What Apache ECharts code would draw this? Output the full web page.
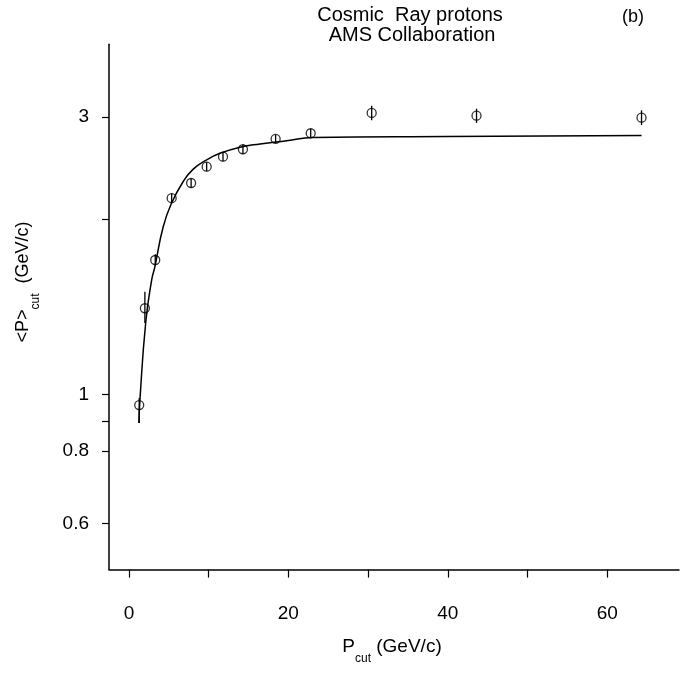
<!DOCTYPE html>
<html>
<head>
<meta charset="utf-8">
<script src="https://cdn.jsdelivr.net/npm/echarts@6/dist/echarts.min.js"></script>
<style>
html,body{margin:0;padding:0;background:#fff;}
#chart{width:683px;height:676px;}
</style>
</head>
<body>
<div id="chart"></div>
<script>
// Measured points: P_cut (GeV/c) and <P>_cut (GeV/c)
const pcut   = [1.29, 2.0, 3.3, 5.36, 7.8, 9.75, 11.8, 14.3, 18.4, 22.8, 30.45, 43.6, 64.3];
const meanP  = [0.959, 1.407, 1.703, 2.175, 2.310, 2.464, 2.564, 2.640, 2.750, 2.813, 3.048, 3.016, 2.992];
const errLow = [0.893, 1.327, 1.665, 2.135, 2.268, 2.420, 2.518, 2.594, 2.705, 2.765, 2.960, 2.930, 2.905];
const errHigh= [0.986, 1.502, 1.742, 2.215, 2.352, 2.508, 2.610, 2.688, 2.795, 2.862, 3.135, 3.100, 3.080];

// Fitted curve
const fitX = [1.25, 1.38, 2.10, 2.85, 3.26, 4.30, 5.36, 6.81, 8.07, 9.75, 11.42, 13.93, 16.44, 19.79, 23.1, 39.9, 64.3];
const fitY = [0.893, 0.978, 1.327, 1.573, 1.659, 1.943, 2.134, 2.324, 2.440, 2.531, 2.598, 2.661, 2.696, 2.731, 2.766, 2.777, 2.788];

// Axis ticks and labels
const xTicks  = [0, 10, 20, 30, 40, 50, 60];
const xLabels = [0, 20, 40, 60];
const yTicks  = [0.6, 0.8, 0.9, 1, 2, 3];
const yLabels = [0.6, 0.8, 1, 3];

const FONT = '"Liberation Sans", Arial, Helvetica, sans-serif';

const chart = echarts.init(document.getElementById('chart'), null, {renderer: 'canvas'});

const pts = pcut.map((x, i) => [x, meanP[i]]);
const errs = pcut.map((x, i) => [x, errLow[i], errHigh[i]]);
const fit = fitX.map((x, i) => [x, fitY[i]]);

const option = {
  backgroundColor: '#fff',
  animation: false,
  grid: {left: 109, right: 4, top: 44.3, bottom: 106.4, containLabel: false, outerBoundsMode: 'none'},
  xAxis: {
    type: 'value',
    min: -2.5, max: 69,
    axisLine: {show: true, onZero: false, lineStyle: {color: '#000', width: 1.5}},
    axisTick: {show: true, inside: false, length: 8, customValues: xTicks, lineStyle: {color: '#000', width: 1.2}},
    axisLabel: {show: true, customValues: xLabels, margin: 35, color: '#000', fontSize: 19, fontFamily: FONT,
      formatter: v => String(Math.round(v))},
    splitLine: {show: false}
  },
  yAxis: {
    type: 'log',
    logBase: 10,
    min: 0.5, max: 4,
    axisLine: {show: true, onZero: false, lineStyle: {color: '#000', width: 1.5}},
    axisTick: {show: true, inside: false, length: 7, customValues: yTicks, lineStyle: {color: '#000', width: 1.2}},
    axisLabel: {show: true, customValues: yLabels, margin: 20, color: '#000', fontSize: 19, fontFamily: FONT,
      formatter: v => String(+(+v).toPrecision(3))},
    splitLine: {show: false},
    minorTick: {show: false}
  },
  series: [
    {
      type: 'line',
      data: fit,
      smooth: 0.5,
      showSymbol: false,
      symbol: 'none',
      lineStyle: {color: '#000', width: 1.5},
      z: 2
    },
    {
      type: 'custom',
      data: errs,
      renderItem: function (params, api) {
        const x = api.value(0);
        const lo = api.coord([x, api.value(1)]);
        const hi = api.coord([x, api.value(2)]);
        return {
          type: 'line',
          shape: {x1: lo[0], y1: lo[1], x2: hi[0], y2: hi[1]},
          style: {stroke: '#000', lineWidth: 1.3}
        };
      },
      z: 3
    },
    {
      type: 'scatter',
      data: pts,
      symbol: 'circle',
      symbolSize: 9,
      itemStyle: {color: 'rgba(255,255,255,0)', borderColor: '#000', borderWidth: 1.3},
      z: 4
    }
  ],
  graphic: [
    {type: 'text', x: 410, y: 15, style: {text: 'Cosmic  Ray protons', font: '20px ' + FONT, fill: '#000', textAlign: 'center', textVerticalAlign: 'middle'}},
    {type: 'text', x: 412, y: 35, style: {text: 'AMS Collaboration', font: '20px ' + FONT, fill: '#000', textAlign: 'center', textVerticalAlign: 'middle'}},
    {type: 'text', x: 633, y: 17, style: {text: '(b)', font: '18px ' + FONT, fill: '#000', textAlign: 'center', textVerticalAlign: 'middle'}},
    {type: 'text', x: 392, y: 651,
      style: {text: '{a|P}{b|cut}{a| (GeV/c)}', fill: '#000', textAlign: 'center', textVerticalAlign: 'middle',
        rich: {
          a: {fontSize: 19, fontFamily: FONT, color: '#000', lineHeight: 28, verticalAlign: 'top'},
          b: {fontSize: 12, fontFamily: FONT, color: '#000', lineHeight: 28, verticalAlign: 'bottom'}
        }}},
    {type: 'text', x: 28, y: 282, rotation: Math.PI / 2,
      style: {text: '{a|<P>}{b|cut}{a|  (GeV/c)}', fill: '#000', textAlign: 'center', textVerticalAlign: 'middle',
        rich: {
          a: {fontSize: 18, fontFamily: FONT, color: '#000', lineHeight: 28, verticalAlign: 'top'},
          b: {fontSize: 12, fontFamily: FONT, color: '#000', lineHeight: 28, verticalAlign: 'bottom'}
        }}}
  ]
};
chart.setOption(option);
</script>
</body>
</html>
